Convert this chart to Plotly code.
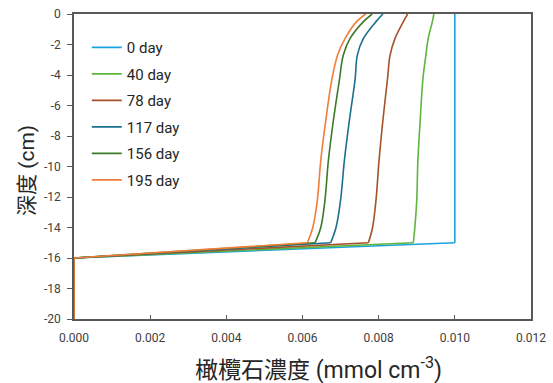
import plotly.graph_objects as go

# Depth nodes (cm) of the smooth part of each profile
depth = [0, -0.5, -1.6, -2.7, -4.3, -7.0, -9.6, -12.2, -14.0, -15.0]
# Olivine concentration (mmol cm^-3) at those depths
c_0 = [0.0100, 0.0100, 0.0100, 0.0100, 0.0100, 0.0100, 0.0100, 0.0100, 0.0100, 0.0100]
c_40 = [0.00945, 0.00941, 0.00930, 0.00924, 0.00916, 0.00909, 0.00903, 0.00900, 0.00895, 0.00891]
c_78 = [0.00876, 0.00865, 0.00843, 0.00830, 0.00823, 0.00811, 0.00801, 0.00793, 0.00784, 0.00773]
c_117 = [0.00811, 0.00793, 0.00760, 0.00744, 0.00738, 0.00723, 0.00710, 0.00700, 0.00688, 0.00674]
c_156 = [0.00783, 0.00760, 0.00725, 0.00707, 0.00697, 0.00681, 0.00668, 0.00659, 0.00648, 0.00633]
c_195 = [0.00766, 0.00742, 0.00712, 0.00692, 0.00677, 0.00661, 0.00648, 0.00639, 0.00627, 0.00613]
# Below the reactive layer
tail_depth = [-16.0, -20.0]
tail_conc = [0.0, 0.0]

labels = ["0 day", "40 day", "78 day", "117 day", "156 day", "195 day"]
series = [c_0, c_40, c_78, c_117, c_156, c_195]
colors = ["#1AA3DE", "#5EB53E", "#A5522A", "#1D6F8E", "#3B7A29", "#F07D3A"]

x_ticks = [0, 0.002, 0.004, 0.006, 0.008, 0.010, 0.012]
y_ticks = [0, -2, -4, -6, -8, -10, -12, -14, -16, -18, -20]

fig = go.Figure()
for lab, conc, col in zip(labels, series, colors):
    fig.add_trace(go.Scatter(
        x=conc, y=depth, mode="lines", name=lab, legendgroup=lab,
        line=dict(color=col, width=1.6, shape="spline", smoothing=1.0),
    ))
    fig.add_trace(go.Scatter(
        x=[conc[-1]] + tail_conc, y=[depth[-1]] + tail_depth, mode="lines",
        name=lab, legendgroup=lab, showlegend=False,
        line=dict(color=col, width=1.6),
    ))

axis_common = dict(
    showgrid=False, zeroline=False, showline=True, mirror=True,
    linecolor="#595959", linewidth=1.5,
    tickfont=dict(family="Roboto", size=12, color="#404040"),
)
fig.update_xaxes(range=[0, 0.012], tickvals=x_ticks,
                 ticktext=[f"{v:.3f}" for v in x_ticks],
                 ticks="inside", ticklen=4, tickcolor="#595959",
                 ticklabelstandoff=7, **axis_common)
fig.update_yaxes(range=[-20, 0], tickvals=y_ticks,
                 ticktext=[str(v) for v in y_ticks],
                 ticks="outside", ticklen=5, tickcolor="#595959",
                 ticklabelstandoff=4, **axis_common)

fig.update_layout(
    width=553, height=383,
    margin=dict(l=74, r=22, t=14, b=64, autoexpand=False),
    paper_bgcolor="white", plot_bgcolor="white",
    font=dict(family="Roboto", color="#262626"),
    legend=dict(x=0.028, y=0.944, xanchor="left", yanchor="top",
                bgcolor="rgba(0,0,0,0)", font=dict(size=15, color="#262626"),
                tracegroupgap=4),
    annotations=[
        dict(text="橄欖石濃度 (mmol cm<sup>-3</sup>)", xref="paper", yref="paper",
             x=(318 - 74) / 457, y=-(368 - 319) / 305, xanchor="center", yanchor="middle",
             showarrow=False, font=dict(size=23, color="#262626",
                                        family="Roboto, Noto Sans CJK TC")),
        dict(text="深度 (cm)", xref="paper", yref="paper", textangle=-90,
             x=-(74 - 27) / 457, y=1 - (171 - 14) / 305, xanchor="center", yanchor="middle",
             showarrow=False, font=dict(size=21, color="#262626",
                                        family="Roboto, Noto Sans CJK TC")),
    ],
)

fig.write_html("out.html", config={"displayModeBar": False},
               post_script="document.body.style.margin='0';")
